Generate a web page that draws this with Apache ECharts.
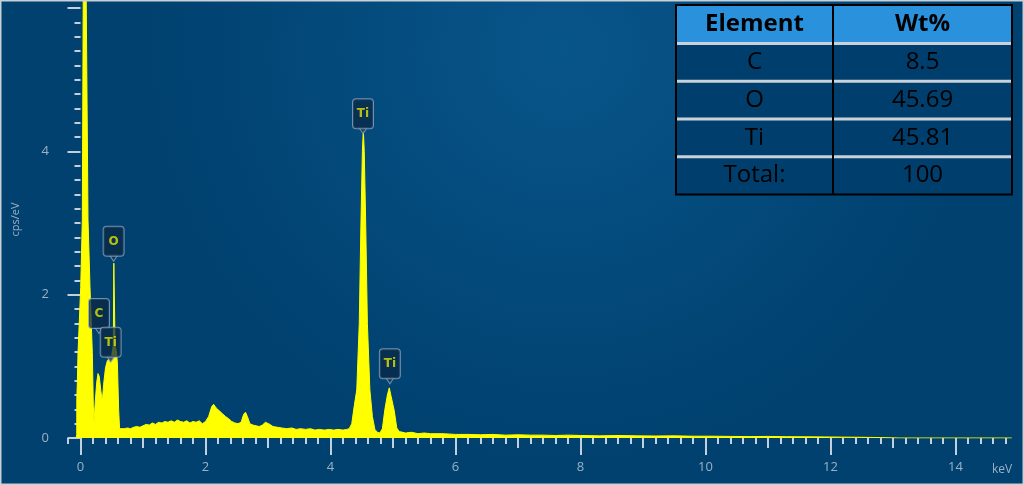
<!DOCTYPE html>
<html><head><meta charset="utf-8">
<script src="https://cdn.jsdelivr.net/npm/echarts@6/dist/echarts.min.js"></script>
<style>html,body{margin:0;padding:0;background:#004070}#c{width:1024px;height:485px}</style>
</head><body><div id="c"></div>
<script>
// ---- data ----
const specKeV = [-0.07,-0.06,-0.059,-0.05,-0.04,0.003,0.029,0.045,0.088,0.12,0.152,0.189,0.205,0.216,
  0.235,0.26,0.28,0.30,0.325,0.349,
  0.37,0.40,0.43,0.47,0.50,0.525,0.533,0.543,0.553,0.575,0.59,0.61,0.625,
  0.65,0.70,0.75,0.80,0.85,0.90,0.95,1.00,1.05,1.10,1.15,1.20,1.25,1.30,1.35,1.40,1.45,1.50,1.55,1.60,1.65,1.70,1.75,1.80,1.85,1.90,1.95,2.00,
  2.05,2.10,2.13,2.17,2.22,2.27,2.32,2.37,2.42,2.47,2.52,2.57,2.61,2.64,2.67,2.71,2.76,2.81,2.86,2.91,2.96,2.99,3.03,3.08,
  3.15,3.22,3.30,3.38,3.45,3.52,3.60,3.68,3.75,3.82,3.90,3.98,4.05,4.12,4.20,4.26,
  4.30,4.34,4.38,4.42,4.46,4.487,4.51,4.525,4.54,4.563,4.59,4.63,4.67,4.71,4.75,4.79,
  4.83,4.87,4.91,4.94,4.97,5.02,5.06,5.10,
  5.2,5.3,5.4,5.5,5.6,5.8,6.0,6.2,6.4,6.6,6.8,7.0,7.2,7.4,7.6,7.8,8.0,8.3,8.6,8.9,9.2,9.5,9.8,10.1,10.4,10.7,11.0,11.3,11.6,11.9,12.2,12.5,12.8,13.1,14.9];
const specCps = [0,0.05,0.55,0.8,1.19,2.1,3.05,6.5,6.5,3.05,2.1,1.19,0.45,0.21,
  0.5,0.78,0.9,0.86,0.66,0.51,
  0.75,0.98,1.08,1.12,1.15,1.3,2.44,2.44,1.3,1.2,1.05,0.4,0.13,
  0.12,0.13,0.14,0.13,0.15,0.16,0.15,0.17,0.19,0.18,0.21,0.19,0.22,0.21,0.23,0.22,0.24,0.22,0.25,0.23,0.22,0.24,0.21,0.23,0.22,0.24,0.20,0.23,
  0.30,0.44,0.47,0.42,0.38,0.34,0.30,0.27,0.23,0.21,0.20,0.22,0.33,0.36,0.30,0.20,0.18,0.17,0.16,0.18,0.22,0.24,0.19,0.16,
  0.15,0.14,0.13,0.14,0.12,0.13,0.12,0.13,0.11,0.12,0.11,0.12,0.11,0.12,0.11,0.12,
  0.13,0.2,0.45,0.67,1.6,3.0,4.0,4.3,4.0,3.0,1.6,0.67,0.3,0.12,0.08,0.07,
  0.13,0.4,0.6,0.70,0.58,0.38,0.14,0.09,
  0.07,0.08,0.06,0.07,0.06,0.06,0.05,0.05,0.045,0.05,0.04,0.045,0.04,0.04,0.035,0.04,0.035,0.03,0.035,0.03,0.028,0.03,0.025,0.025,0.022,0.02,0.022,0.018,0.017,0.015,0.012,0.01,0.006,0,0];

const peakNames = ['C','O','Ti','Ti','Ti'];
const peakKeV   = [0.296, 0.53, 0.483, 4.52, 4.95];
const peakCps   = [1.50, 2.51, 1.10, 4.29, 0.80];

const xTickLabels = [0,2,4,6,8,10,12,14];
const xMidTicks   = [1,3,5,7,9,11,13];
const yTickLabels = [0,2,4];
const yMajorTicks = [0,2,4,6];

const tableHeaders  = ['Element','Wt%'];
const tableElements = ['C','O','Ti','Total:'];
const tableWt       = ['8.5','45.69','45.81','100'];

// ---- tick positions ----
const xMinorTicks = []; for (let i=-1;i<=74;i++) xMinorTicks.push(Math.round(i*2)/10);
const yMinorTicks = []; for (let i=0;i<=30;i++) yMinorTicks.push(Math.round(i*2)/10);

const labelColor = '#9cb1c6', tickColor = '#c2cfdc';
const xBase = {type:'value', min:-0.2, max:14.9, position:'bottom', offset:3,
  axisLine:{show:false}, splitLine:{show:false}};
const yBase = {type:'value', min:0, max:6.1, position:'left', offset:2,
  axisLine:{show:false}, splitLine:{show:false}};

const xAxes = [
  Object.assign({}, xBase, {axisTick:{show:true, customValues:xMinorTicks, length:6, lineStyle:{color:tickColor,width:2}},
    axisLabel:{show:true, customValues:xTickLabels, margin:20, color:labelColor, fontSize:13, fontFamily:'Open Sans'}}),
  Object.assign({}, xBase, {axisTick:{show:true, customValues:xMidTicks, length:10, lineStyle:{color:tickColor,width:2}}, axisLabel:{show:false}}),
  Object.assign({}, xBase, {axisTick:{show:true, customValues:xTickLabels, length:14, lineStyle:{color:tickColor,width:2}}, axisLabel:{show:false}})
];
const yAxes = [
  Object.assign({}, yBase, {axisTick:{show:true, customValues:yMinorTicks, length:6, lineStyle:{color:tickColor,width:2}},
    axisLabel:{show:true, customValues:yTickLabels, margin:17, color:labelColor, fontSize:13, fontFamily:'Open Sans'},
    name:'cps/eV', nameLocation:'middle', nameGap:45, nameTextStyle:{color:labelColor, fontSize:11, fontFamily:'Open Sans'}}),
  Object.assign({}, yBase, {axisTick:{show:true, customValues:yMajorTicks, length:13, lineStyle:{color:tickColor,width:2}}, axisLabel:{show:false}})
];

const specData = specKeV.map((k,i)=>[k, specCps[i]]);
const peakData = peakNames.map((n,i)=>({name:n, value:[peakKeV[i], peakCps[i]]}));

// ---- table graphics ----
const T = {x:676, y:5, w:336, hh:38.5, rh:37.75, div:833};
const g = [];
g.push({type:'rect', z:100, shape:{x:T.x, y:T.y, width:T.w, height:T.hh}, style:{fill:'#2a92dc'}});
g.push({type:'rect', z:100, shape:{x:T.x, y:T.y+T.hh, width:T.w, height:T.rh*4}, style:{fill:'#003f6d'}});
for (let i=0;i<4;i++) {
  const yy = T.y + T.hh + T.rh*i;
  g.push({type:'line', z:101, shape:{x1:T.x, y1:yy, x2:T.x+T.w, y2:yy}, style:{stroke:'#c9d1da', lineWidth:3}});
}
g.push({type:'line', z:102, shape:{x1:T.div, y1:T.y, x2:T.div, y2:T.y+T.hh+T.rh*4}, style:{stroke:'#000', lineWidth:2}});
g.push({type:'rect', z:102, shape:{x:T.x, y:T.y, width:T.w, height:T.hh+T.rh*4}, style:{fill:'rgba(0,0,0,0)', stroke:'#000', lineWidth:2}});
const c1 = (T.x + T.div)/2, c2 = (T.div + T.x + T.w)/2;
tableHeaders.forEach((h,j)=>{
  g.push({type:'text', z:103, x: j===0?c1:c2, y:T.y+T.hh/2, style:{text:h, align:'center', verticalAlign:'middle', fill:'#000', font:'bold 24px "Open Sans"'}});
});
tableElements.forEach((e,i)=>{
  const yy = T.y + T.hh + T.rh*i + T.rh/2;
  g.push({type:'text', z:103, x:c1, y:yy, style:{text:e, align:'center', verticalAlign:'middle', fill:'#000', font:'24px "Open Sans"'}});
  g.push({type:'text', z:103, x:c2, y:yy, style:{text:tableWt[i], align:'center', verticalAlign:'middle', fill:'#000', font:'24px "Open Sans"'}});
});
g.push({type:'text', z:103, x:992, y:470, style:{text:'keV', align:'left', verticalAlign:'middle', fill:labelColor, font:'12px "Open Sans"'}});
g.push({type:'rect', z:120, shape:{x:0.5, y:0.5, width:1023, height:484}, style:{fill:'rgba(0,0,0,0)', stroke:'#c8d0d8', lineWidth:2}});

const chart = echarts.init(document.getElementById('c'), null, {renderer:'canvas'});
chart.setOption({
  animation:false,
  backgroundColor: new echarts.graphic.RadialGradient(0.55, 0.1, 0.85, [
    {offset:0, color:'#08558a'}, {offset:1, color:'#00416f'}]),
  grid:{left:68, right:12.25, top:1, bottom:47},
  xAxis: xAxes,
  yAxis: yAxes,
  series:[
    {type:'line', xAxisIndex:0, yAxisIndex:0, data:specData, symbol:'none', showSymbol:false, clip:true, z:3,
      lineStyle:{color:'#ffff00', width:1}, areaStyle:{color:'#ffff00', opacity:1}},
    {type:'scatter', xAxisIndex:0, yAxisIndex:0, data:peakData, clip:false, z:6,
      symbol:'triangle', symbolRotate:180, symbolSize:[8,6],
      itemStyle:{color:'#0e3556', borderColor:'#8aa3bd', borderWidth:1},
      label:{show:true, position:'top', distance:-1, formatter:p=>p.name,
        color:'#e3e300', fontWeight:'bold', fontSize:12, fontFamily:'DejaVu Sans',
        backgroundColor:'rgba(10,40,68,0.92)', borderColor:'#8aa3bd', borderWidth:1, borderRadius:3,
        padding:[9,4,8,4], width:12, align:'center'}}
  ],
  graphic: g
});
</script></body></html>
